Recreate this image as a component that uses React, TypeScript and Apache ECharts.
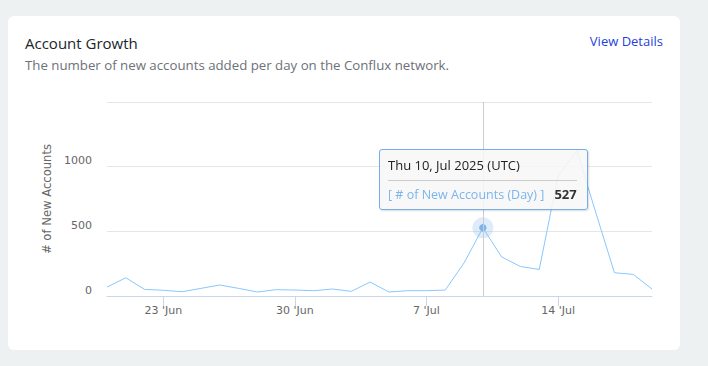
import { useEffect, useRef } from "react";
import * as echarts from "echarts";

const dates = [
  "2025-06-20", "2025-06-21", "2025-06-22", "2025-06-23", "2025-06-24",
  "2025-06-25", "2025-06-26", "2025-06-27", "2025-06-28", "2025-06-29",
  "2025-06-30", "2025-07-01", "2025-07-02", "2025-07-03", "2025-07-04",
  "2025-07-05", "2025-07-06", "2025-07-07", "2025-07-08", "2025-07-09",
  "2025-07-10", "2025-07-11", "2025-07-12", "2025-07-13", "2025-07-14",
  "2025-07-15", "2025-07-16", "2025-07-17", "2025-07-18", "2025-07-19",
];
const newAccounts = [
  69, 141, 51, 44, 33, 59, 85, 59, 31, 49,
  46, 41, 54, 36, 108, 31, 41, 41, 46, 256,
  527, 302, 228, 205, 928, 1123, 650, 180, 167, 54,
];
const yTicks = [0, 500, 1000, 1500];
const hiddenYTickLabels = [1500];
const labelDates = ["2025-06-23", "2025-06-30", "2025-07-07", "2025-07-14"];
const highlightIndex = 20;
const seriesName = "# of New Accounts (Day)";
const yAxisName = "# of New Accounts";
const titleText = "Account Growth";
const subtitleText = "The number of new accounts added per day on the Conflux network.";
const linkText = "View Details";

const MONTHS = ["Jan", "Feb", "Mar", "Apr", "May", "Jun", "Jul", "Aug", "Sep", "Oct", "Nov", "Dec"];
const WEEKDAYS = ["Sun", "Mon", "Tue", "Wed", "Thu", "Fri", "Sat"];

const LINE = "#7cb5ec";
const AXIS_FONT = "'DejaVu Sans', sans-serif";
const UI_FONT = "'Open Sans', sans-serif";

function toDate(s: string) {
  return new Date(s + "T00:00:00Z");
}

export default function App() {
  const ref = useRef<HTMLDivElement>(null);

  useEffect(() => {
    if (!ref.current) return;
    const chart = echarts.init(ref.current, undefined, { renderer: "svg" });
    chart.setOption({
      animation: false,
      backgroundColor: "#eef1f1",
      graphic: [
        {
          type: "rect",
          z: -10,
          shape: { x: 8, y: 16, width: 672, height: 334, r: 6 },
          style: { fill: "#ffffff" },
          silent: true,
        },
        {
          type: "text",
          x: 25,
          y: 43,
          style: {
            text: titleText,
            fill: "#212529",
            font: `15px ${UI_FONT}`,
            verticalAlign: "middle",
          },
        },
        {
          type: "text",
          x: 25,
          y: 65,
          style: {
            text: subtitleText,
            fill: "#6c717a",
            font: `13.25px ${UI_FONT}`,
            verticalAlign: "middle",
          },
        },
        {
          type: "text",
          x: 663,
          y: 41,
          style: {
            text: linkText,
            fill: "#1f3fdc",
            font: `13px ${UI_FONT}`,
            align: "right",
            verticalAlign: "middle",
          },
        },
      ],
      grid: { left: 107, right: 56, top: 102, bottom: 70, containLabel: false },
      tooltip: {
        trigger: "axis",
        alwaysShowContent: true,
        transitionDuration: 0,
        backgroundColor: "transparent",
        borderWidth: 0,
        padding: 0,
        extraCssText: "box-shadow:none;",
        textStyle: { fontFamily: "'Open Sans', sans-serif", fontSize: 12, color: "#333" },
        axisPointer: {
          type: "line",
          lineStyle: { color: "#cccccc", width: 1, type: "solid" },
          label: { show: false },
        },
        position: (point: number[]) => [point[0] - 104, point[1] - 79],
        formatter: (params: any) => {
          const p = Array.isArray(params) ? params[0] : params;
          const d = toDate(p.name);
          const head = `${WEEKDAYS[d.getUTCDay()]} ${d.getUTCDate()}, ${MONTHS[d.getUTCMonth()]} ${d.getUTCFullYear()} (UTC)`;
          return (
            `<div style="border:1.5px solid #74aee8;border-radius:3px;background:rgba(247,247,247,0.88);` +
            `padding:7px 10px 6px 8px;box-shadow:1px 1px 2px rgba(0,0,0,0.14);">` +
            `<div style="font-size:13px;color:#222;line-height:17px">${head}</div>` +
            `<div style="border-top:1px solid #cccccc;margin:6px 0 5px 0"></div>` +
            `<div style="line-height:17px;white-space:nowrap"><span style="color:${LINE};font-size:12.5px">[ ${p.seriesName} ]</span>` +
            `<b style="margin-left:10px;font-size:13px;color:#333">${p.value}</b></div>` +
            `</div>`
          );
        },
      },
      xAxis: {
        type: "category",
        data: dates,
        boundaryGap: false,
        axisLine: { lineStyle: { color: "#ccd6eb", width: 1 } },
        axisTick: {
          show: true,
          length: 10,
          lineStyle: { color: "#ccd6eb" },
          interval: (_i: number, v: string) => labelDates.includes(v),
        },
        axisLabel: {
          interval: (_i: number, v: string) => labelDates.includes(v),
          color: "#666666",
          fontFamily: AXIS_FONT,
          fontSize: 11,
          margin: 9,
          formatter: (v: string) => {
            const d = toDate(v);
            return `${d.getUTCDate()} '${MONTHS[d.getUTCMonth()]}`;
          },
        },
        splitLine: { show: false },
      },
      yAxis: {
        type: "value",
        min: yTicks[0],
        max: yTicks[yTicks.length - 1],
        interval: yTicks[1] - yTicks[0],
        name: yAxisName,
        nameLocation: "middle",
        nameGap: 52,
        nameRotate: 90,
        nameTextStyle: { color: "#666666", fontFamily: AXIS_FONT, fontSize: 11.6 },
        axisLine: { show: false },
        axisTick: { show: false },
        axisLabel: {
          color: "#666666",
          fontFamily: AXIS_FONT,
          fontSize: 11,
          margin: 15,
          verticalAlign: "bottom",
          lineHeight: 12,
          formatter: (v: number) => (hiddenYTickLabels.includes(v) ? "" : String(v)),
        },
        splitLine: { lineStyle: { color: "#e6e6e6", width: 1 } },
      },
      series: [
        {
          name: seriesName,
          type: "line",
          data: newAccounts,
          showSymbol: false,
          symbol: "circle",
          symbolSize: 7,
          itemStyle: { color: LINE },
          lineStyle: { color: LINE, width: 1 },
          emphasis: { scale: false, lineStyle: { width: 1 } },
          markPoint: {
            silent: true,
            label: { show: false },
            data: [
              {
                coord: [dates[highlightIndex], newAccounts[highlightIndex]],
                symbol: "circle",
                symbolSize: 21,
                itemStyle: { color: "rgba(124,181,236,0.25)" },
              },
              {
                coord: [dates[highlightIndex], newAccounts[highlightIndex]],
                symbol: "circle",
                symbolSize: 7,
                itemStyle: { color: LINE },
              },
            ],
          },
        },
      ],
    });
    chart.dispatchAction({ type: "showTip", seriesIndex: 0, dataIndex: highlightIndex });
    return () => chart.dispose();
  }, []);

  return (
    <div
      ref={ref}
      style={{ position: "absolute", left: 0, top: 0, width: 708, height: 366 }}
    />
  );
}
